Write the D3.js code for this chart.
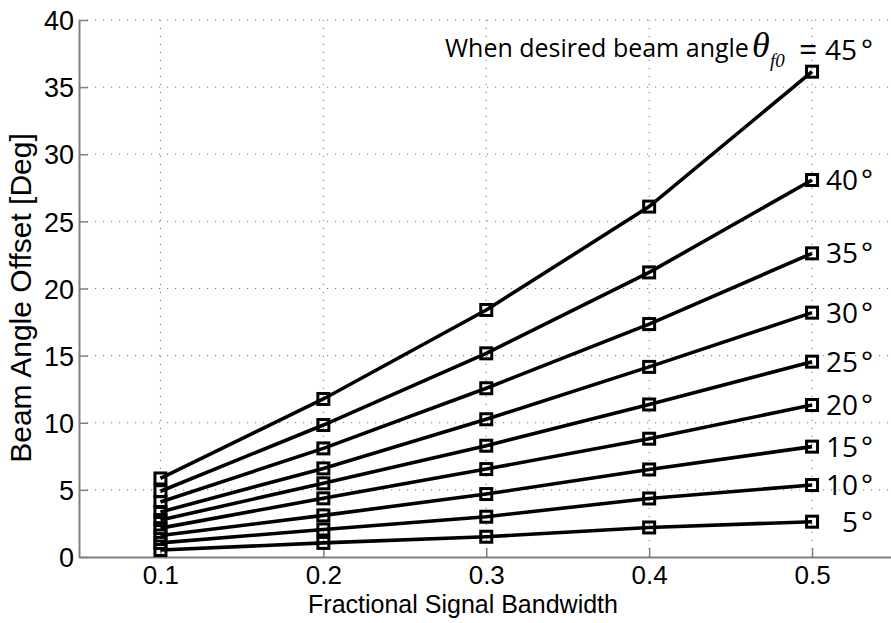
<!DOCTYPE html>
<html>
<head>
<meta charset="utf-8">
<script src="https://cdn.jsdelivr.net/npm/d3@7"></script>
<style>
  html, body { margin: 0; padding: 0; background: #fff; }
  svg { display: block; }
</style>
</head>
<body>
<svg id="chart" width="891" height="623"></svg>
<script>
// ---- data ----
const bandwidths = [0.1, 0.2, 0.3, 0.4, 0.5];
const angles = [5, 10, 15, 20, 25, 30, 35, 40, 45];
const offset5  = [0.52, 1.05, 1.51, 2.20, 2.63];
const offset10 = [1.05, 2.05, 3.00, 4.36, 5.36];
const offset15 = [1.60, 3.10, 4.69, 6.52, 8.22];
const offset20 = [2.15, 4.37, 6.55, 8.81, 11.32];
const offset25 = [2.75, 5.49, 8.29, 11.36, 14.55];
const offset30 = [3.35, 6.60, 10.26, 14.16, 18.20];
const offset35 = [4.10, 8.09, 12.57, 17.35, 22.62];
const offset40 = [4.90, 9.83, 15.17, 21.20, 28.08];
const offset45 = [5.85, 11.77, 18.40, 26.10, 36.15];
const seriesValues = [offset5, offset10, offset15, offset20, offset25, offset30, offset35, offset40, offset45];
const xTicks = [0.1, 0.2, 0.3, 0.4, 0.5];
const yTicks = [0, 5, 10, 15, 20, 25, 30, 35, 40];
const xDomain = [0.05, 0.55];
const yDomain = [0, 40];

// ---- layout ----
const svg = d3.select("#chart");
const mLeft = 79, mTop = 20, mBottom = 557;
const x = d3.scaleLinear().domain(xDomain).range([mLeft, mLeft + 814.5]);
const y = d3.scaleLinear().domain(yDomain).range([mBottom, mTop]);
const axisColor = "#808080";
const sans = "'Liberation Sans', Arial, Helvetica, sans-serif";
const calib = "'Open Sans', 'Noto Sans', sans-serif";

// grid
const grid = svg.append("g").attr("class", "grid");
grid.selectAll("line.gx").data(xTicks).join("line")
  .attr("x1", d => x(d)).attr("x2", d => x(d))
  .attr("y1", y(yDomain[0])).attr("y2", y(yDomain[1]))
  .attr("stroke", "#777").attr("stroke-width", 1).attr("stroke-dasharray", "1.2,6.8");
grid.selectAll("line.gy").data(yTicks.filter(d => d > 0)).join("line")
  .attr("x1", x(xDomain[0])).attr("x2", x(xDomain[1]))
  .attr("y1", d => y(d)).attr("y2", d => y(d))
  .attr("stroke", "#777").attr("stroke-width", 1).attr("stroke-dasharray", "1.2,6.8");

// axes
const xAxis = d3.axisBottom(x).tickValues(xTicks).tickFormat(d3.format(".1f"))
  .tickSizeInner(-9).tickSizeOuter(0).tickPadding(9);
const yAxis = d3.axisLeft(y).tickValues(yTicks).tickFormat(d3.format("d"))
  .tickSizeInner(-9).tickSizeOuter(0).tickPadding(5);

const gx = svg.append("g").attr("transform", `translate(0,${mBottom})`).call(xAxis);
const gy = svg.append("g").attr("transform", `translate(${mLeft},0)`).call(yAxis);
[gx, gy].forEach(g => {
  g.select(".domain").attr("stroke", axisColor).attr("stroke-width", 2);
  g.selectAll(".tick line").attr("stroke", axisColor).attr("stroke-width", 1.5);
  g.selectAll(".tick text").attr("fill", "#000").attr("font-family", sans).attr("font-size", 27);
});
gx.selectAll(".tick text").attr("font-size", 26).attr("dy", "0.71em");
gy.selectAll(".tick text").attr("dy", "0.36em");

// axis titles
svg.append("text")
  .attr("x", 463).attr("y", 613)
  .attr("text-anchor", "middle")
  .attr("font-family", sans).attr("font-size", 25)
  .text("Fractional Signal Bandwidth");
svg.append("text")
  .attr("transform", "translate(31,298) rotate(-90)")
  .attr("text-anchor", "middle")
  .attr("font-family", sans).attr("font-size", 30)
  .text("Beam Angle Offset [Deg]");

// series lines and markers
const line = d3.line().x((d, i) => x(bandwidths[i])).y(d => y(d));
const series = svg.append("g").selectAll("g.series").data(seriesValues).join("g");
series.append("path")
  .attr("d", d => line(d))
  .attr("fill", "none").attr("stroke", "#000").attr("stroke-width", 3.6);
series.selectAll("rect").data(d => d).join("rect")
  .attr("x", (d, i) => x(bandwidths[i]) - 5.5)
  .attr("y", d => y(d) - 5.5)
  .attr("width", 11).attr("height", 11)
  .attr("fill", "none").attr("stroke", "#000").attr("stroke-width", 3);

// right-side angle labels (except 45, which is in the annotation)
const labelG = svg.append("g");
angles.forEach((a, k) => {
  if (a === 45) return;
  const yy = y(seriesValues[k][4]);
  labelG.append("text")
    .attr("x", 858).attr("y", yy).attr("dy", "0.36em")
    .attr("text-anchor", "end")
    .attr("font-family", calib).attr("font-size", 28)
    .text(String(a));
  labelG.append("text")
    .attr("x", 861).attr("y", yy).attr("dy", "0.36em")
    .attr("font-family", calib).attr("font-size", 28)
    .text("°");
});

// annotation for 45 degree
const ann = svg.append("g");
ann.append("text")
  .attr("x", 445).attr("y", 57)
  .attr("font-family", calib).attr("font-size", 25)
  .text("When desired beam angle");
ann.append("text")
  .attr("x", 752).attr("y", 57)
  .attr("font-family", "'Liberation Serif', 'Times New Roman', serif")
  .attr("font-style", "italic").attr("font-size", 36)
  .text("θ");
ann.append("text")
  .attr("x", 770).attr("y", 67)
  .attr("font-family", "'Liberation Serif', 'Times New Roman', serif")
  .attr("font-style", "italic").attr("font-size", 19)
  .text("f0");
ann.append("text")
  .attr("x", 799).attr("y", 61)
  .attr("font-family", calib).attr("font-size", 32)
  .text("=");
ann.append("text")
  .attr("x", 857).attr("y", 60)
  .attr("text-anchor", "end")
  .attr("font-family", calib).attr("font-size", 28)
  .text(String(angles[8]));
ann.append("text")
  .attr("x", 861).attr("y", 60)
  .attr("font-family", calib).attr("font-size", 28)
  .text("°");
</script>
</body>
</html>
